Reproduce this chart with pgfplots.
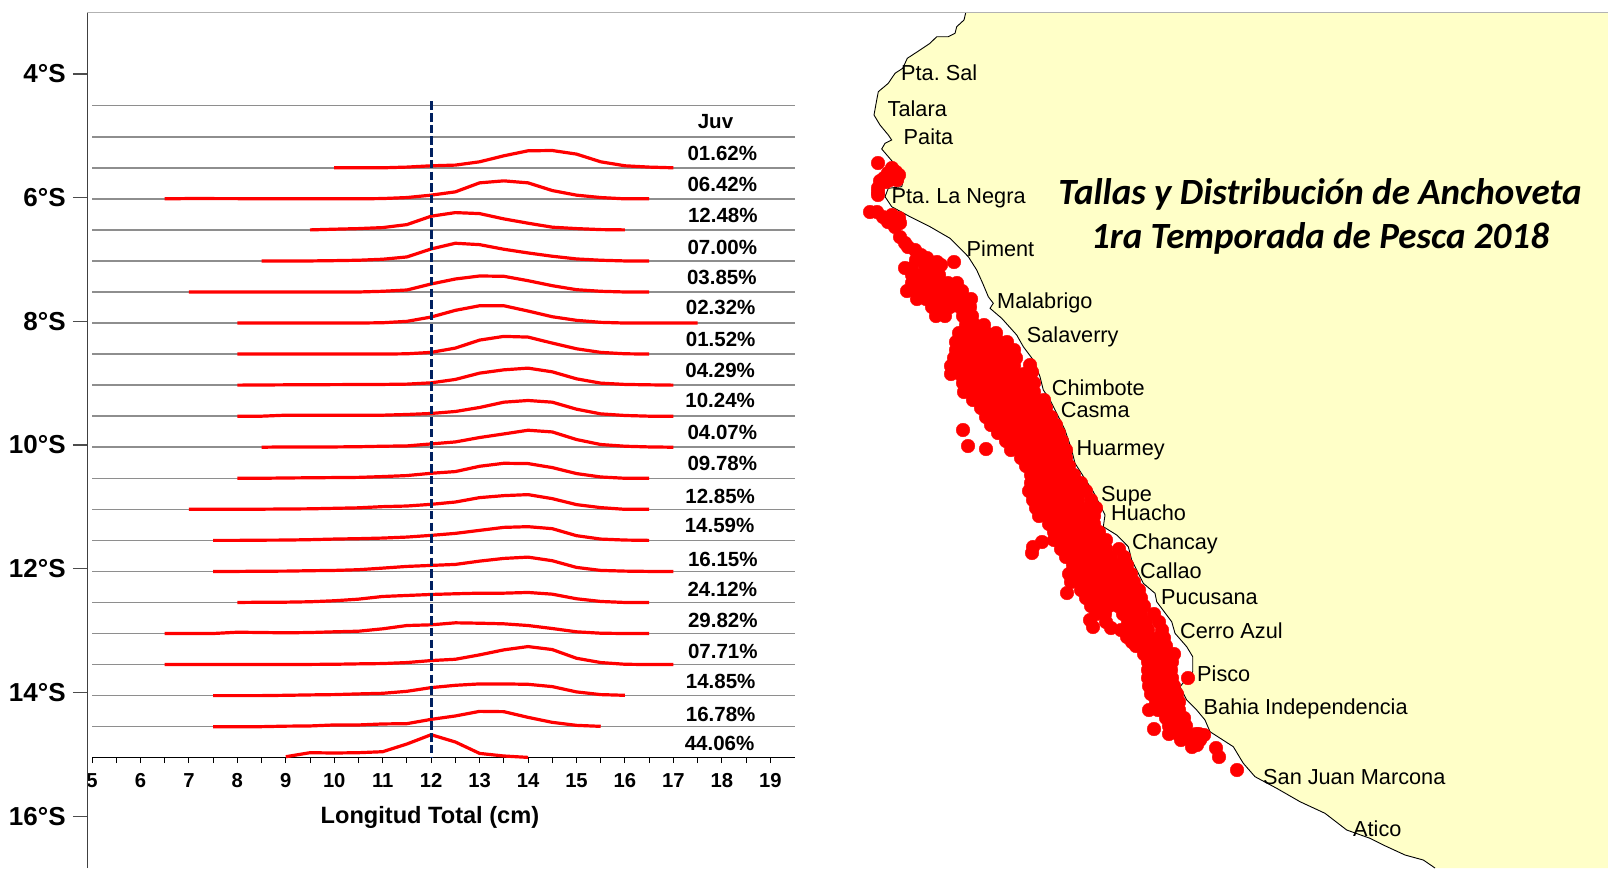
\documentclass[border=0pt]{standalone}
\usepackage{pgfplots}
\pgfplotsset{compat=1.18}
\usepackage{pgfplotstable}
\usepackage{fontspec}
\setmainfont{Liberation Sans}
\newfontfamily\titlefont{Carlito}
\definecolor{land}{HTML}{FFFFC8}
\definecolor{navy}{HTML}{002060}
\definecolor{rule}{HTML}{8E8E8E}
\pgfplotstableread{
x y
965.7 12.7
964 20
956.7 26.7
955 33.3
948.3 36.7
936.7 36.7
930 43.3
920 50
907.3 58.3
902.7 68.3
895 73.3
888.3 83.3
878.3 91.7
876.7 100
874 115
880 125
888.3 135
891.7 140
885 143.3
881.7 149
888.3 156.7
898.3 168.3
903.3 180
901.7 186.7
888.3 188.3
885 196.7
891.7 206.7
910 216.7
930 226.7
950 238.3
961.7 250
968.3 256.7
976.7 270
982.7 283.3
988.3 296.7
993.3 303.3
990 308.3
1001.7 318.3
1016.7 335
1023.3 346.7
1033.3 360
1040 376.7
1043.3 390
1050 400
1056.7 413.3
1065 430
1071.7 450
1075 463.3
1086.7 481.7
1093.3 491.7
1100 505
1105 515
1103.3 526.7
1116.7 535
1128.3 546.7
1131.7 560
1138.3 573.3
1143.3 583.3
1155 593.3
1156.7 601.7
1171.7 621.7
1175 633.3
1186.7 646.7
1192.7 656.7
1192.7 671.7
1188.3 676.7
1180 686.7
1186.7 700
1196.7 710
1205 720
1210 731.7
1233.3 746.7
1243.3 763.3
1255 776.7
1276.7 788.3
1300 801.7
1325 813.3
1346.7 830
1370 838.3
1383.3 845
1405 855
1423.3 860
1435 868
1608 868
1608 12.7
}\coast
\newcommand{\curve}[2]{\addplot[red,line width=3.2pt,line join=round] table[x index=0,y expr=#1+\thisrowno{1}*0.0161,row sep=\\,header=false]{#2};}
\newcommand{\plab}[3]{\node[font=\fontsize{20.5}{22}\selectfont\bfseries,anchor=center] at (axis cs:#1,#2) {#3};}
\newcommand{\mlab}[3]{\node[font=\fontsize{21.7}{24}\selectfont,anchor=base west,inner sep=0pt] at (axis cs:#1,#2) {#3};}
\frenchspacing
\begin{document}
\begin{tikzpicture}
\useasboundingbox (0,0) rectangle (1608pt,868pt);
% map, in picture pixels
\begin{axis}[at={(0,0)},anchor=south west,scale only axis,width=1608pt,height=868pt,
  xmin=0,xmax=1608,ymin=0,ymax=868,y dir=reverse,hide axis,clip=false]
\addplot[fill=land,draw=none] table[x=x,y=y]{\coast} -- cycle;
\addplot[black,line width=0.9pt,restrict x to domain=0:1500] table[x=x,y=y]{\coast};
\addplot[color=black!30,line width=1.2pt] coordinates {(87,12.7)(1608,12.7)};
\addplot[only marks,mark=*,mark size=6.8pt,mark options={fill=red,draw=none},red] coordinates {
(878,163)(884,178)(880,181)(888,173)(892,168)(896,172)(899,175)(897,180)(890,180)(886,182)
(878,188)(878,192)(878,195)
(870,212)(877,212)(883,217)(892,215)(888,222)(895,227)(900,223)(899,218)
(900,237)(905,243)(908,247)(915,250)(921,255)(927,258)(937,262)(941,265)(933,268)(925,265)(916,260)(905,268)(912,268)(954,262)
(912,275)(921,275)(930,275)(939,275)
(912,283)(921,283)(930,283)(939,283)(948,283)(957,283)
(907,291)(917,291)(926,291)(935,291)(944,291)(953,291)(962,291)
(917,299)(926,299)(935,299)(944,299)(953,299)(962,299)(971,299)
(932,307)(941,307)(950,307)(960,307)(970,307)
(936,316)(945,316)(963,316)(972,316)
(966,325)(975,325)(984,325)
(959,333)(968,333)(977,333)(986,333)(996,333)
(956,342)(965,342)(974,342)(983,342)(992,342)(999,342)(1007,342)
(956,350)(965,350)(974,350)(983,350)(992,350)(1001,350)(1010,350)(1014,350)
(954,358)(963,358)(972,358)(981,358)(990,358)(999,358)(1008,358)(1016,358)
(951,366)(960,366)(969,366)(978,366)(987,366)(996,366)(1005,366)(1014,366)(1030,365)
(951,374)(960,374)(969,374)(978,374)(987,374)(996,374)(1005,374)(1014,374)(1024,374)(1032,372)
(963,383)(972,383)(981,383)(990,383)(999,383)(1008,383)(1017,383)(1026,383)(1034,383)
(964,392)(973,392)(982,392)(991,392)(1000,392)(1009,392)(1018,392)(1027,392)(1034,392)
(973,400)(982,400)(991,400)(1000,400)(1009,400)(1018,400)(1027,400)(1036,400)(1044,400)
(981,408)(990,408)(999,408)(1008,408)(1017,408)(1026,408)(1035,408)(1046,408)
(986,417)(995,417)(1004,417)(1013,417)(1022,417)(1031,417)(1040,417)(1051,417)
(991,425)(1000,425)(1009,425)(1018,425)(1027,425)(1036,425)(1045,425)(1056,425)
(998,433)(1007,433)(1016,433)(1025,433)(1034,433)(1043,433)(1052,433)(1059,433)
(1006,441)(1015,441)(1024,441)(1033,441)(1042,441)(1051,441)(1062,441)
(1011,450)(1020,450)(1029,450)(1038,450)(1047,450)(1056,450)(1066,450)
(1021,458)(1030,458)(1039,458)(1048,458)(1057,458)(1066,458)
(1026,466)(1035,466)(1044,466)(1053,466)(1062,466)(1069,466)
(1031,475)(1040,475)(1049,475)(1058,475)(1067,475)(1074,475)
(1031,483)(1040,483)(1049,483)(1058,483)(1067,483)(1076,483)(1081,483)
(1029,491)(1038,491)(1047,491)(1056,491)(1065,491)(1074,491)(1086,491)
(1033,500)(1042,500)(1051,500)(1060,500)(1069,500)(1078,500)(1091,500)
(1036,508)(1045,508)(1054,508)(1063,508)(1072,508)(1081,508)(1090,508)(1096,508)
(1039,516)(1048,516)(1057,516)(1066,516)(1075,516)(1084,516)(1094,516)
(1049,524)(1058,524)(1067,524)(1076,524)(1085,524)(1094,524)
(1054,532)(1063,532)(1072,532)(1081,532)(1090,532)(1099,532)
(1054,540)(1063,540)(1072,540)(1081,540)(1090,540)(1099,540)(1106,540)
(1061,549)(1070,549)(1079,549)(1088,549)(1097,549)(1106,549)(1119,549)
(1066,557)(1075,557)(1084,557)(1093,557)(1102,557)(1111,557)(1124,557)
(1073,565)(1082,565)(1091,565)(1100,565)(1109,565)(1118,565)(1127,565)
(1069,574)(1078,574)(1087,574)(1096,574)(1105,574)(1114,574)(1123,574)(1131,574)
(1071,582)(1080,582)(1089,582)(1098,582)(1107,582)(1116,582)(1125,582)(1134,582)
(1081,590)(1090,590)(1099,590)(1108,590)(1117,590)(1126,590)(1135,590)(1139,590)
(1086,598)(1095,598)(1104,598)(1113,598)(1122,598)(1131,598)(1141,598)
(1091,606)(1100,606)(1109,606)(1118,606)(1127,606)(1136,606)(1144,606)
(1096,614)(1105,614)(1123,614)(1132,614)(1141,614)(1154,614)
(1106,622)(1128,622)(1137,622)(1146,622)(1159,622)
(1121,630)(1130,630)(1139,630)(1148,630)(1162,630)
(1131,638)(1140,638)(1149,638)(1158,638)(1164,638)
(1136,646)(1145,646)(1154,646)(1166,646)
(1144,654)(1153,654)(1162,654)(1174,654)
(1148,662)(1157,662)(1166,662)(1172,662)
(1148,670)(1157,670)(1166,670)(1171,670)
(1148,678)(1157,678)(1166,678)(1172,678)(1188,678)
(1149,686)(1158,686)(1167,686)(1174,686)
(1151,694)(1160,694)(1169,694)(1177,694)
(1156,702)(1165,702)(1174,702)(1179,702)
(1149,710)(1158,710)(1167,710)(1176,710)(1179,710)
(1166,718)(1175,718)(1184,718)
(1169,726)(1178,726)(1186,726)
(1169,734)(1178,734)(1187,734)(1196,734)(1199,734)(1204,735)
(1181,740)(1190,740)(1200,740)
(1192,747)(1197,745)(1216,748)(1219,757)(1237,770)(1154,729)
(1033,547)(1042,542)(1032,553)(1067,593)(1090,620)(1093,627)(1111,628)(1127,637)(1132,642)
(963,430)(968,446)(986,449)
};
\mlab{901}{80}{Pta. Sal}
\mlab{887.5}{116}{Talara}
\mlab{903.5}{144.4}{Paita}
\mlab{891.5}{203.4}{Pta. La Negra}
\mlab{966.5}{256}{Piment}
\mlab{997}{308.4}{Malabrigo}
\mlab{1026.7}{342.4}{Salaverry}
\mlab{1051.7}{395}{Chimbote}
\mlab{1060.7}{417.4}{Casma}
\mlab{1076.5}{455.5}{Huarmey}
\mlab{1101}{501}{Supe}
\mlab{1111}{520.7}{Huacho}
\mlab{1132}{549.4}{Chancay}
\mlab{1140}{578.4}{Callao}
\mlab{1161}{604.5}{Pucusana}
\mlab{1180}{638.7}{Cerro Azul}
\mlab{1197}{681.7}{Pisco}
\mlab{1203.5}{714.4}{Bahia Independencia}
\mlab{1263}{784.5}{San Juan Marcona}
\mlab{1353}{836.7}{Atico}
\node[font=\fontsize{37}{44}\titlefont\bfseries\itshape,align=center,anchor=center] at (axis cs:1320,216.5) {Tallas y Distribución de Anchoveta\\1ra Temporada de Pesca 2018};
\plab{715.5}{121.2}{Juv}
\plab{722.3}{153.3}{01.62\%}
\plab{722.3}{184.3}{06.42\%}
\plab{722.8}{215}{12.48\%}
\plab{722.3}{247.3}{07.00\%}
\plab{721.8}{277.3}{03.85\%}
\plab{720.7}{307.3}{02.32\%}
\plab{720.7}{339.3}{01.52\%}
\plab{720.2}{370}{04.29\%}
\plab{720.2}{400}{10.24\%}
\plab{722.3}{432.7}{04.07\%}
\plab{722.3}{463.3}{09.78\%}
\plab{720.2}{496}{12.85\%}
\plab{719.6}{525.3}{14.59\%}
\plab{722.8}{559.3}{16.15\%}
\plab{722.3}{589}{24.12\%}
\plab{722.8}{620.3}{29.82\%}
\plab{722.8}{651}{07.71\%}
\plab{720.7}{681}{14.85\%}
\plab{720.7}{714}{16.78\%}
\plab{719.6}{743.3}{44.06\%}
\end{axis}
% length frequency curves by latitude
\begin{axis}[at={(92pt,110.3pt)},anchor=south west,scale only axis,width=702.5pt,height=658.2pt,
  xmin=5,xmax=19.5,ymin=-15,ymax=-4.4,axis x line*=bottom,axis y line=none,clip=false,
  axis line style={color=black,line width=1.2pt},
  xtick={5,...,19},minor x tick num=1,
  tick align=outside,major tick length=5.5pt,minor tick length=5.5pt,
  tick style={color=black,line width=1pt},
  /pgf/number format/assume math mode=true,
  x tick label style={font=\fontsize{20.2}{22}\selectfont\bfseries,yshift=-7pt},
  xlabel={Longitud Total (cm)},
  xlabel style={font=\fontsize{23.6}{26}\selectfont\bfseries,at={(axis description cs:0.481,-0.0884)},anchor=center,yshift=-1.5pt}]
\pgfplotsinvokeforeach{-4.5,-5,-5.5,-6,-6.5,-7,-7.5,-8,-8.5,-9,-9.5,-10,-10.5,-11,-11.5,-12,-12.5,-13,-13.5,-14,-14.5}{
  \addplot[rule,line width=1.5pt,forget plot] coordinates {(5,#1)(19.5,#1)};
}
\curve{-5.5}{10 0\\10.5 0\\11 0\\11.5 0.7\\12 2\\12.5 2.7\\13 6\\13.5 12\\14 17\\14.5 17.3\\15 13.7\\15.5 6\\16 2\\16.5 0.7\\17 0\\}
\curve{-6}{6.5 0\\7 0.3\\8 0.2\\9 0\\10 0\\10.5 0\\11 0.3\\11.5 1.3\\12 3.7\\12.5 7\\13 16\\13.5 18\\14 16\\14.5 8.3\\15 3.7\\15.5 1.3\\16 0\\16.5 0\\}
\curve{-6.5}{9.5 0\\10 0.7\\10.5 1.3\\11 2.3\\11.5 5.3\\12 13.7\\12.5 17.3\\13 16.3\\13.5 11\\14 6.7\\14.5 2.7\\15 1.3\\15.5 0.3\\16 0\\}
\curve{-7}{8.5 0\\9 0\\9.5 0\\10 0.3\\10.5 0.7\\11 1.7\\11.5 4\\12 12\\12.5 17.7\\13 16.3\\13.5 11.7\\14 8\\14.5 4.7\\15 2\\15.5 0.7\\16 0\\16.5 0\\}
\curve{-7.5}{7 0\\8 0\\9 0\\10 0\\10.5 0\\11 0.7\\11.5 2\\12 8\\12.5 13\\13 16\\13.5 15.7\\14 11.3\\14.5 6.3\\15 2.3\\15.5 0.7\\16 0\\16.5 0\\}
\curve{-8}{8 0\\9 0\\10 0\\10.5 0\\11 0.3\\11.5 1.7\\12 6\\12.5 12.7\\13 17.3\\13.5 17.3\\14 12\\14.5 6.3\\15 2.7\\15.5 0.7\\16 0\\16.5 0\\17 0\\17.5 0\\}
\curve{-8.5}{8 0\\9 0\\10 0\\11 0\\11.5 0.3\\12 1.7\\12.5 6\\13 14\\13.5 17.7\\14 17\\14.5 11\\15 5.3\\15.5 1.7\\16 0.3\\16.5 0\\}
\curve{-9}{8 0\\9 0.3\\10 0.5\\11 0.7\\11.5 1\\12 2.3\\12.5 5.7\\13 12\\13.5 15.3\\14 17\\14.5 13.3\\15 6.3\\15.5 2\\16 0.7\\16.5 0.3\\17 0\\}
\curve{-9.5}{8 0\\8.5 0\\9 1\\9.5 1\\10 1\\10.5 1\\11 1\\11.5 1.7\\12 2.7\\12.5 4.7\\13 8.7\\13.5 14\\14 15.7\\14.5 14\\15 7\\15.5 2.3\\16 0.7\\16.5 0\\17 0\\}
\curve{-10}{8.5 0\\9 0.3\\10 0.3\\10.5 0.5\\11 1\\11.5 1.3\\12 3.3\\12.5 5.3\\13 9.7\\13.5 13.3\\14 17\\14.5 15.3\\15 7.7\\15.5 2.7\\16 1\\16.5 0.3\\17 0\\}
\curve{-10.5}{8 0\\8.5 0\\9 0.3\\9.5 0.5\\10 0.7\\10.5 0.9\\11 1.7\\11.5 2.7\\12 5\\12.5 6.7\\13 12\\13.5 15\\14 14.7\\14.5 10.7\\15 4.7\\15.5 1.3\\16 0\\16.5 0\\}
\curve{-11}{7 0\\7.5 0\\8 0\\9 0.3\\9.5 0.5\\10 1\\10.5 1.5\\11 2.7\\11.5 3.3\\12 5\\12.5 7.3\\13 11.7\\13.5 13.7\\14 14.7\\14.5 10.7\\15 4.7\\15.5 1.7\\16 0\\16.5 0\\}
\curve{-11.5}{7.5 0\\8 0\\8.5 0.2\\9 0.3\\9.5 0.7\\10 1.3\\10.5 1.7\\11 2.3\\11.5 3.3\\12 5\\12.5 7\\13 10\\13.5 13\\14 13.7\\14.5 11.7\\15 4.7\\15.5 1.3\\16 0.3\\16.5 0\\}
\curve{-12}{7.5 0\\8 0\\8.5 0.2\\9 0.3\\9.5 0.7\\10 1\\10.5 1.7\\11 3.3\\11.5 5\\12 6\\12.5 7\\13 10.3\\13.5 13\\14 14.3\\14.5 10.7\\15 4\\15.5 1\\16 0.3\\16.5 0\\17 0\\}
\curve{-12.5}{8 0\\8.5 0.2\\9 0.3\\9.5 0.7\\10 1.7\\10.5 3.3\\11 6\\11.5 7\\12 8\\12.5 8.7\\13 9.3\\13.5 9.3\\14 10\\14.5 8.3\\15 3.7\\15.5 1\\16 0\\16.5 0\\}
\curve{-13}{6.5 0\\7 0\\7.5 0\\8 1.3\\8.5 1\\9 0.7\\9.5 1\\10 1.7\\10.5 2.3\\11 4.7\\11.5 8\\12 8.7\\12.5 10.7\\13 10.3\\13.5 9.7\\14 8\\14.5 5\\15 1.7\\15.5 0.3\\16 0\\16.5 0\\}
\curve{-13.5}{6.5 0\\7 0\\8 0\\9 0\\10 0.3\\10.5 0.7\\11 1\\11.5 2\\12 4\\12.5 5.3\\13 9.7\\13.5 14.7\\14 18\\14.5 15\\15 6.3\\15.5 2\\16 0.3\\16.5 0\\17 0\\}
\curve{-14}{7.5 0\\8 0\\8.5 0\\9 0.3\\9.5 0.7\\10 1\\10.5 1.7\\11 2.3\\11.5 4.3\\12 8\\12.5 10.3\\13 11.7\\13.5 11.7\\14 11.3\\14.5 9\\15 3.7\\15.5 1\\16 0.3\\}
\curve{-14.5}{7.5 0\\8 0\\8.5 0\\9 0.5\\9.5 0.7\\10 1.7\\10.5 1.7\\11 2.7\\11.5 3\\12 7.3\\12.5 10.7\\13 15.3\\13.5 15\\14 9.3\\14.5 4.3\\15 1.3\\15.5 0.3\\}
\curve{-15}{9 1\\9.5 5\\10 4.7\\10.5 5\\11 6\\11.5 13.7\\12 23\\12.5 15.7\\13 4.3\\13.5 1.7\\14 0.3\\}
\addplot[navy,line width=3.2pt,dash pattern=on 8.5pt off 3.2pt] coordinates {(12,-4.43)(12,-15)};
\end{axis}
% latitude axis
\begin{axis}[at={(87.3pt,0pt)},anchor=south west,scale only axis,width=1pt,height=855.3pt,
  xmin=0,xmax=1,ymin=-16.84,ymax=-3.009,axis x line=none,axis y line*=left,
  axis line style={color=black!75,line width=1.1pt},
  ytick={-4,-6,-8,-10,-12,-14,-16},yticklabels={4°S,6°S,8°S,10°S,12°S,14°S,16°S},
  tick align=outside,major tick length=14.5pt,tick style={color=black!70,line width=1.1pt},
  y tick label style={font=\fontsize{26}{28}\selectfont\bfseries,inner sep=0pt,xshift=-7pt}]
\addplot[draw=none] coordinates {(0,-4)(1,-16)};
\end{axis}
\end{tikzpicture}
\end{document}
